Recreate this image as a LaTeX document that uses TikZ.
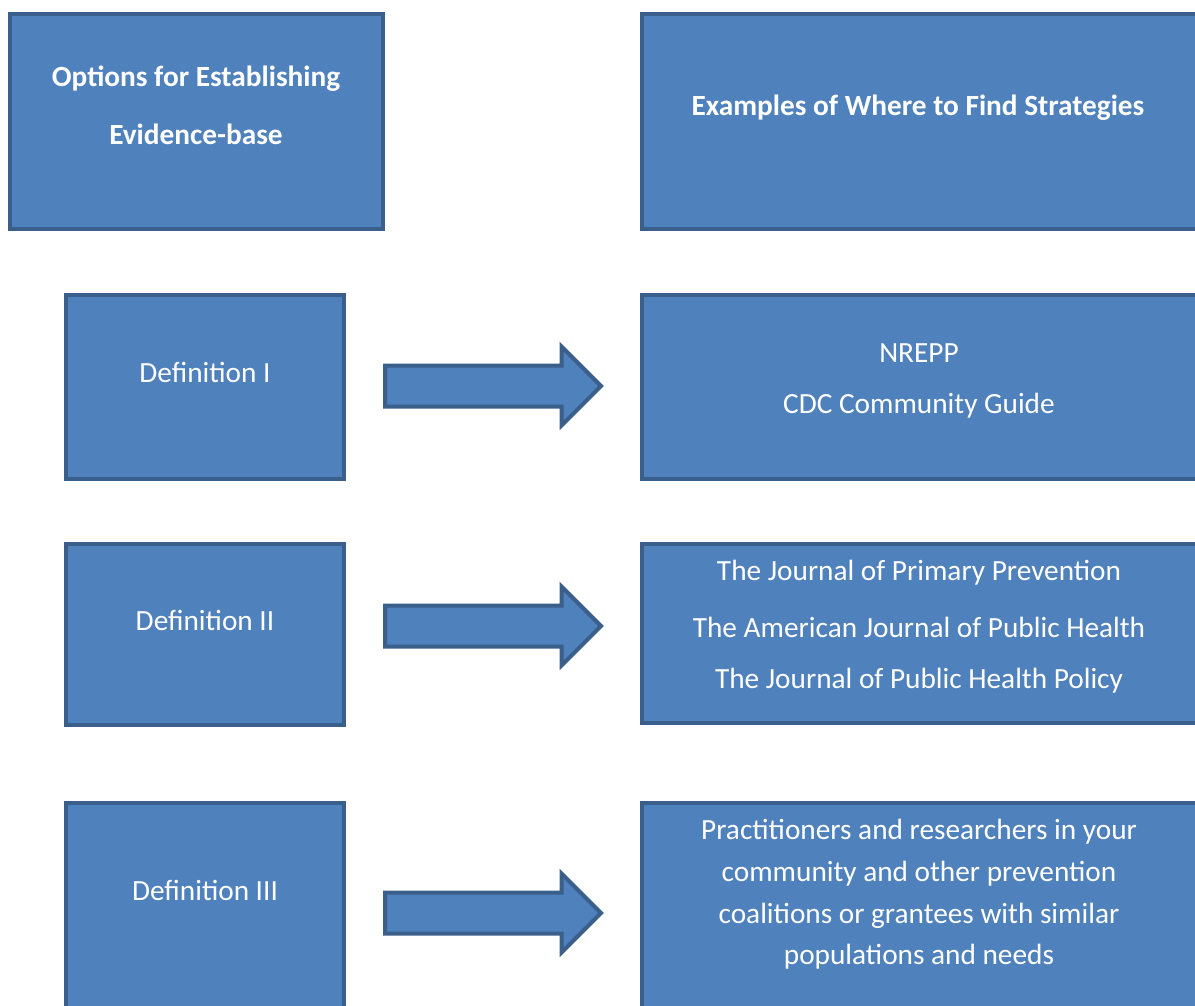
\documentclass[tikz,border=0pt]{standalone}
\usepackage{fontspec}
\setmainfont{Carlito}
\usetikzlibrary{shapes.arrows,calc}
\definecolor{boxfill}{HTML}{4F81BD}
\definecolor{boxline}{HTML}{3A5F8B}
\tikzset{
  box/.style={draw=boxline, fill=boxfill, line width=4pt, rectangle, inner sep=0pt, outer sep=0pt, anchor=north west},
  txt/.style={text=white, font=\fontsize{29.3}{34}\selectfont, align=center, inner sep=0pt},
  btxt/.style={txt, font=\fontsize{29.3}{34}\selectfont\bfseries},
  blockarrow/.style={single arrow, draw=boxline, fill=boxfill, line width=4pt, inner xsep=0pt, inner ysep=18.5pt, outer sep=0pt,
    minimum height=216pt, minimum width=75pt, single arrow head extend=19pt, single arrow head indent=0pt, anchor=west}
}
\begin{document}
\begin{tikzpicture}[x=1pt,y=-1pt]
\path[use as bounding box] (0,0) rectangle (1195,1005);
\clip (0,0) rectangle (1195,1005);
% left column
\node[box, minimum width=373pt, minimum height=215pt] (hl) at (10,14) {};
\node[box, minimum width=278pt, minimum height=184pt] (d1) at (66,295) {};
\node[box, minimum width=278pt, minimum height=181pt] (d2) at (66,544) {};
\node[box, minimum width=278pt, minimum height=215pt] (d3) at (66,803) {};
% right column
\node[box, minimum width=560pt, minimum height=215pt] (hr) at (642,14) {};
\node[box, minimum width=560pt, minimum height=184pt] (r1) at (642,295) {};
\node[box, minimum width=560pt, minimum height=179pt] (r2) at (642,544) {};
\node[box, minimum width=560pt, minimum height=215pt] (r3) at (642,803) {};
% texts
\node[btxt] (thl1) at (196,79) {Options for Establishing};
\node[btxt] (thl2) at (196,134) {Evidence-base};
\node[btxt] (thr) at (918,108) {Examples of Where to Find Strategies};
\node[txt] (td1) at (205,372) {Definition I};
\node[txt] (td2) at (205,620) {Definition II};
\node[txt] (td3) at (205,890) {Definition III};
\node[txt] (tr1a) at (919,353) {NREPP};
\node[txt] (tr1b) at (919,406) {CDC Community Guide};
\node[txt] (tr2a) at (919,573) {The Journal of Primary Prevention};
\node[txt] (tr2b) at (919,627) {The American Journal of Public Health};
\node[txt] (tr2c) at (919,681) {The Journal of Public Health Policy};
\node[txt] (tr3a) at (919,832) {Practitioners and researchers in your};
\node[txt] (tr3b) at (919,874) {community and other prevention};
\node[txt] (tr3c) at (919,916) {coalitions or grantees with similar};
\node[txt] (tr3d) at (919,957) {populations and needs};
% block arrows
\node[blockarrow] (a1) at (385,386) {};
\node[blockarrow] (a2) at (385,626) {};
\node[blockarrow] (a3) at (385,913) {};
\end{tikzpicture}
\end{document}
